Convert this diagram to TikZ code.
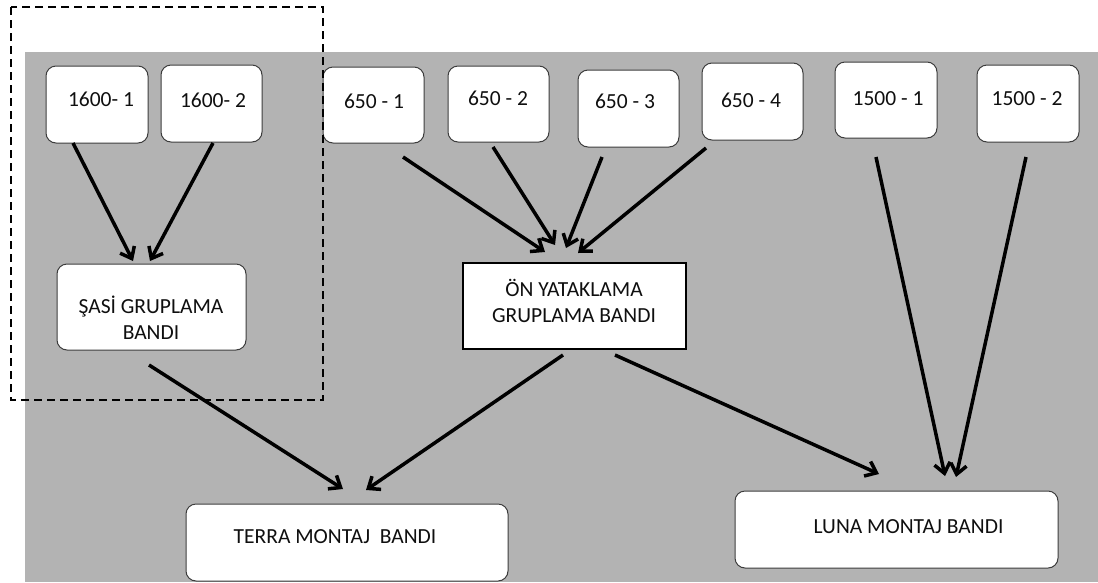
\documentclass[tikz,border=0pt]{standalone}
\usepackage{fontspec}
\setmainfont{Carlito}
\usetikzlibrary{arrows.meta}
\definecolor{bg}{RGB}{179,179,179}
\definecolor{edge}{RGB}{60,60,60}
\definecolor{ink}{RGB}{15,15,15}
\tikzset{
  rbox/.style={draw=edge, line width=1pt, fill=white, rounded corners=10pt},
  sbox/.style={draw=black, line width=2pt, fill=white},
  txt/.style={font=\fontsize{21.5}{26}\selectfont, text=ink, inner sep=0pt, align=center},
  arr/.style={line width=3.5pt, -{Straight Barb[length=10pt,width=16pt,line width=3.5pt]}},
  frame/.style={draw=black, line width=1.5pt, dash pattern=on 8pt off 5pt},
}
\begin{document}
\begin{tikzpicture}[x=1pt,y=-1pt]
\useasboundingbox (0,0) rectangle (1098,582);
\fill[bg] (25,52) rectangle (1098,582);

% top boxes
\draw[rbox] (46,66) rectangle (148,143);
\draw[rbox] (161,65) rectangle (262,142);
\draw[rbox] (323,67) rectangle (424,143);
\draw[rbox] (448,66) rectangle (549,142);
\draw[rbox] (578,70) rectangle (679,147);
\draw[rbox] (702,63) rectangle (803,140);
\draw[rbox] (835,62) rectangle (937,138);
\draw[rbox] (977,65) rectangle (1079,142);
\node[txt] (t16a) at (101,99.5) {1600- 1};
\node[txt] (t16b) at (213,100.5) {1600- 2};
\node[txt] (t65a) at (374,101.5) {650 - 1};
\node[txt] (t65b) at (498,98.5) {650 - 2};
\node[txt] (t65c) at (625,101) {650 - 3};
\node[txt] (t65d) at (751,100.5) {650 - 4};
\node[txt] (t15a) at (888,99) {1500 - 1};
\node[txt] (t15b) at (1027,99) {1500 - 2};

% middle boxes
\draw[rbox] (57,264) rectangle (246,350);
\node[txt] (tsasi) at (151,317.5) {ŞASİ GRUPLAMA\\[-0.5pt]BANDI};
\draw[sbox] (463,263) rectangle (686,349);
\node[txt] (ton) at (574,301) {ÖN YATAKLAMA\\[-0.5pt]GRUPLAMA BANDI};

% bottom boxes
\draw[rbox] (186,504) rectangle (508,581);
\node[txt] (tterra) at (335,537) {TERRA MONTAJ\ \ BANDI};
\draw[rbox] (735,491) rectangle (1058,568);
\node[txt] (tluna) at (908.5,527) {LUNA MONTAJ BANDI};

% connector end points
\coordinate (s1) at (73,143);   \coordinate (e1) at (133,261);
\coordinate (s2) at (213,143);  \coordinate (e2) at (150,261);
\coordinate (s3) at (403,157);  \coordinate (e3) at (545,252);
\coordinate (s4) at (493,147);  \coordinate (e4) at (555,245);
\coordinate (s5) at (602,157);  \coordinate (e5) at (566,248);
\coordinate (s6) at (706,148);  \coordinate (e6) at (578,253);
\coordinate (s7) at (876,157);  \coordinate (e7) at (945,476);
\coordinate (s8) at (1026,157); \coordinate (e8) at (956,477);
\coordinate (s9) at (149,365);  \coordinate (e9) at (343,489);
\coordinate (s10) at (563,355); \coordinate (e10) at (366,490);
\coordinate (s11) at (615,355); \coordinate (e11) at (879,474);

\foreach \i in {1,...,11} \draw[arr] (s\i) -- (e\i);

% dashed frame
\draw[frame] (11,7) rectangle (323,400);
\end{tikzpicture}
\end{document}
